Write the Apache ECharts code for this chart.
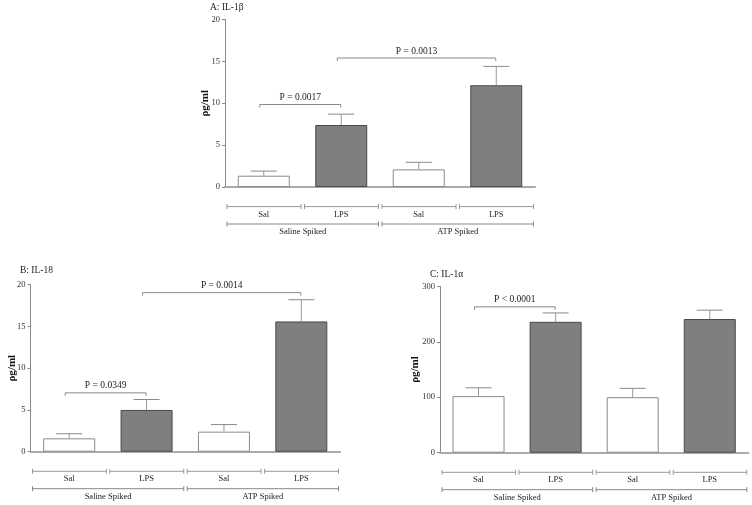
<!DOCTYPE html>
<html><head><meta charset="utf-8">
<script src="https://cdn.jsdelivr.net/npm/echarts@6/dist/echarts.min.js"></script>
<style>html,body{margin:0;padding:0;background:#fff}#c{width:752px;height:505px}</style>
</head><body><div id="c"></div>
<script>
const categories = ['Sal', 'LPS', 'Sal', 'LPS'];
const groupNames = ['Saline Spiked', 'ATP Spiked'];
const groupSpans = [[0, 1], [2, 3]];
const panelTitles = ['A: IL-1β', 'B: IL-18', 'C: IL-1α'];
const yAxisName = 'ρg/ml';
const yMax = [20, 20, 300];
const yInterval = [5, 5, 100];

const il1bMean = [1.35, 7.4, 2.1, 12.15];
const il1bSem = [0.55, 1.3, 0.85, 2.25];
const il18Mean = [1.6, 5.0, 2.4, 15.6];
const il18Sem = [0.55, 1.25, 0.85, 2.6];
const il1aMean = [102, 236, 100, 241];
const il1aSem = [15, 16, 16, 16];

const il1bSig = [[0, 1, 9.85, 'P = 0.0017'], [1, 3, 15.4, 'P = 0.0013']];
const il18Sig = [[0, 1, 7.05, 'P = 0.0349'], [1, 3, 19.05, 'P = 0.0014']];
const il1aSig = [[0, 1, 263, 'P < 0.0001']];

const FONT = "'Liberation Serif', 'Times New Roman', serif";
const panels = [
  { mean: il1bMean, sem: il1bSem, sig: il1bSig, grid: { left: 225, top: 19.5, width: 310, height: 167.5 }, title: { left: 210, top: 2.5 }, nameGap: 14 },
  { mean: il18Mean, sem: il18Sem, sig: il18Sig, grid: { left: 30.5, top: 284.7, width: 309.5, height: 167 }, title: { left: 20, top: 265.5 }, nameGap: 12.5 },
  { mean: il1aMean, sem: il1aSem, sig: il1aSig, grid: { left: 440, top: 286.3, width: 308.3, height: 166.4 }, title: { left: 430, top: 269.5 }, nameGap: 19 }
];

const barColors = ['#ffffff', '#7f7f7f', '#ffffff', '#7f7f7f'];
const barBorders = ['#8a8a8a', '#4a4a4a', '#8a8a8a', '#4a4a4a'];

const option = {
  animation: false,
  backgroundColor: '#fff',
  title: panels.map((p, k) => ({
    text: panelTitles[k], left: p.title.left, top: p.title.top, padding: 0,
    textStyle: { fontFamily: FONT, fontSize: 9.5, fontWeight: 'normal', color: '#222' }
  })),
  grid: panels.map(p => Object.assign({}, p.grid)),
  xAxis: panels.map((p, k) => ({
    type: 'category', gridIndex: k, data: categories, boundaryGap: true,
    axisLine: { lineStyle: { color: '#aaaaaa', width: 2 } },
    axisTick: { alignWithLabel: true, length: 4, lineStyle: { color: '#999' } },
    axisLabel: { show: false }, splitLine: { show: false }
  })),
  yAxis: panels.map((p, k) => ({
    type: 'value', gridIndex: k, min: 0, max: yMax[k], interval: yInterval[k],
    name: yAxisName, nameLocation: 'middle', nameGap: p.nameGap, nameRotate: 90,
    nameMoveOverlap: false,
    nameTextStyle: { fontFamily: FONT, fontSize: 11, fontWeight: 'bold', color: '#111' },
    axisLine: { show: true, lineStyle: { color: '#8a8a8a', width: 1 } },
    axisTick: { show: true, length: 3, lineStyle: { color: '#8a8a8a' } },
    axisLabel: { fontFamily: FONT, fontSize: 8.5, color: '#333', margin: 5 },
    splitLine: { show: false }
  })),
  series: []
};

panels.forEach((p, k) => {
  option.series.push({
    type: 'bar', xAxisIndex: k, yAxisIndex: k, barWidth: 52, z: 2,
    data: p.mean.map((v, i) => ({ value: v, itemStyle: { color: barColors[i], borderColor: barBorders[i], borderWidth: 1 } }))
  });
  // error bars
  option.series.push({
    type: 'custom', xAxisIndex: k, yAxisIndex: k, clip: false, silent: true, z: 3,
    encode: { x: 0, y: [1, 2] },
    data: p.mean.map((m, i) => [i, m, m + p.sem[i]]),
    renderItem: (params, api) => {
      const b = api.coord([api.value(0), api.value(1)]);
      const t = api.coord([api.value(0), api.value(2)]);
      const style = { stroke: '#9a9a9a', lineWidth: 1 };
      return { type: 'group', children: [
        { type: 'line', shape: { x1: b[0], y1: b[1], x2: b[0], y2: t[1] }, style },
        { type: 'line', shape: { x1: b[0] - 13, y1: t[1], x2: b[0] + 13, y2: t[1] }, style: { stroke: '#8a8a8a', lineWidth: 1 } }
      ] };
    }
  });
  // significance brackets
  option.series.push({
    type: 'custom', xAxisIndex: k, yAxisIndex: k, clip: false, silent: true, z: 4,
    encode: { x: [0, 1], y: 2 },
    data: p.sig.map(s => [s[0], s[1], s[2]]),
    renderItem: (params, api) => {
      const s = p.sig[params.dataIndex];
      const a = api.coord([s[0], s[2]]);
      const b = api.coord([s[1], s[2]]);
      const x1 = a[0] - 4, x2 = b[0] - 0.5, y = a[1];
      return { type: 'group', children: [
        { type: 'polyline', shape: { points: [[x1, y + 3], [x1, y], [x2, y], [x2, y + 3]] }, style: { stroke: '#8a8a8a', lineWidth: 1, fill: null } },
        { type: 'text', style: { x: (x1 + x2) / 2, y: y - 2, text: s[3], fontFamily: FONT, fontSize: 9.5, fill: '#222', align: 'center', verticalAlign: 'bottom' } }
      ] };
    }
  });
  // category brackets under the axis
  option.series.push({
    type: 'custom', xAxisIndex: k, yAxisIndex: k, clip: false, silent: true, z: 4,
    encode: { x: 0, y: 1 },
    data: categories.map((c, i) => [i, 0]),
    renderItem: (params, api) => {
      const c = api.coord([api.value(0), 0]);
      const w = api.size([1, 0])[0];
      const l = c[0] - w / 2 + 2, r = c[0] + w / 2 - 1.5, y = c[1] + 19.6;
      const st = { stroke: '#999', lineWidth: 1 };
      return { type: 'group', children: [
        { type: 'line', shape: { x1: l, y1: y, x2: r, y2: y }, style: st },
        { type: 'line', shape: { x1: l, y1: y - 2.5, x2: l, y2: y + 2.5 }, style: st },
        { type: 'line', shape: { x1: r, y1: y - 2.5, x2: r, y2: y + 2.5 }, style: st },
        { type: 'text', style: { x: c[0], y: c[1] + 27.5, text: categories[params.dataIndex], fontFamily: FONT, fontSize: 8.5, fill: '#222', align: 'center', verticalAlign: 'middle' } }
      ] };
    }
  });
  // group brackets
  option.series.push({
    type: 'custom', xAxisIndex: k, yAxisIndex: k, clip: false, silent: true, z: 4,
    encode: { x: [0, 1], y: 2 },
    data: groupSpans.map(s => [s[0], s[1], 0]),
    renderItem: (params, api) => {
      const a = api.coord([api.value(0), 0]);
      const b = api.coord([api.value(1), 0]);
      const w = api.size([1, 0])[0];
      const l = a[0] - w / 2 + 2, r = b[0] + w / 2 - 1.5, y = a[1] + 37;
      const st = { stroke: '#888', lineWidth: 1 };
      return { type: 'group', children: [
        { type: 'line', shape: { x1: l, y1: y, x2: r, y2: y }, style: st },
        { type: 'line', shape: { x1: l, y1: y - 2.5, x2: l, y2: y + 2.5 }, style: st },
        { type: 'line', shape: { x1: r, y1: y - 2.5, x2: r, y2: y + 2.5 }, style: st },
        { type: 'text', style: { x: (l + r) / 2, y: a[1] + 44.8, text: groupNames[params.dataIndex], fontFamily: FONT, fontSize: 8.5, fill: '#222', align: 'center', verticalAlign: 'middle' } }
      ] };
    }
  });
});

const chart = echarts.init(document.getElementById('c'), null, { renderer: 'canvas' });
chart.setOption(option);
</script>
</body></html>
